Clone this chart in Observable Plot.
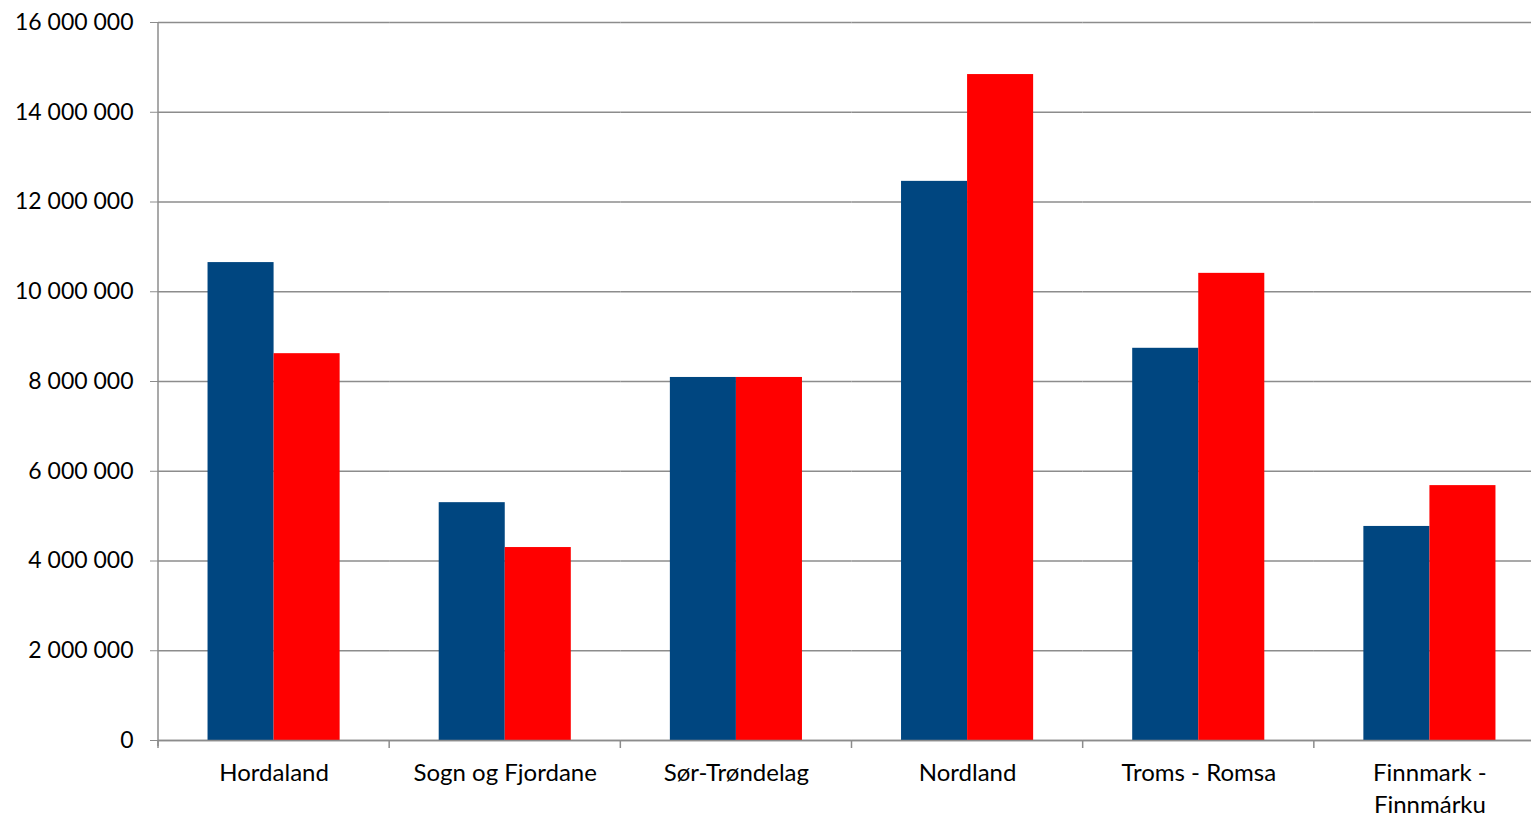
<!DOCTYPE html>
<html>
<head>
<meta charset="utf-8">
<script src="https://cdn.jsdelivr.net/npm/d3@7"></script>
<script src="https://cdn.jsdelivr.net/npm/@observablehq/plot@0.6"></script>
<style>
  html, body { margin: 0; padding: 0; background: #fff; overflow: hidden; }
  #chart svg { display: block; max-width: none !important; }
</style>
</head>
<body>
<div id="chart"></div>
<script>
const categories = ["Hordaland", "Sogn og Fjordane", "Sør-Trøndelag", "Nordland", "Troms - Romsa", "Finnmark - Finnmárku"];
const categoryLabels = ["Hordaland", "Sogn og Fjordane", "Sør-Trøndelag", "Nordland", "Troms - Romsa", "Finnmark -\nFinnmárku"];
const seriesNames = ["A", "B"];
const seriesA = [10650000, 5300000, 8090000, 12460000, 8740000, 4770000];
const seriesB = [8620000, 4300000, 8090000, 14840000, 10410000, 5680000];
const yTicks = [0, 2000000, 4000000, 6000000, 8000000, 10000000, 12000000, 14000000, 16000000];
const colors = ["#004680", "#ff0000"];

const data = [];
categories.forEach((c, i) => {
  data.push({category: c, series: seriesNames[0], value: seriesA[i]});
  data.push({category: c, series: seriesNames[1], value: seriesB[i]});
});

const fmt = v => d3.format(",")(v).replace(/,/g, " ");
const labelOf = Object.fromEntries(categories.map((c, i) => [c, categoryLabels[i]]));

const chart = Plot.plot({
  width: 1545,
  height: 818,
  marginLeft: 158,
  marginRight: 0,
  marginTop: 22,
  marginBottom: 78,
  style: {fontFamily: "Lato, 'Open Sans', sans-serif", fontSize: "23px", color: "#000", overflow: "visible", maxWidth: "none"},
  fx: {domain: categories, padding: 0, round: false, label: null},
  x: {domain: seriesNames, paddingInner: 0, paddingOuter: 0.75, round: false, axis: null},
  y: {domain: [0, 16000000], label: null},
  color: {domain: seriesNames, range: colors},
  marks: [
    Plot.gridY(yTicks, {stroke: "#8c8c8c", strokeOpacity: 1, strokeWidth: 1.5}),
    Plot.barY(data, {fx: "category", x: "series", y: "value", fill: "series", inset: 0}),
    Plot.axisY(yTicks, {tickFormat: fmt, tickSize: 8, tickPadding: 17, stroke: "#8c8c8c", fontSize: 23, label: null}),
    Plot.ruleY([0], {stroke: "#8c8c8c", strokeWidth: 1.5}),
    Plot.axisFx({anchor: "bottom", tickSize: 0, tickPadding: 17, tickFormat: c => labelOf[c], fontSize: 24, lineHeight: 1.35, label: null})
  ]
});

document.getElementById("chart").appendChild(chart);

// y-axis line and category boundary ticks, derived from the scales
const svg = d3.select(chart);
const fx = chart.scale("fx");
const y = chart.scale("y");
const y0 = y.apply(0), yTop = y.apply(16000000);
const xLeft = fx.apply(categories[0]);
svg.append("line")
  .attr("x1", xLeft).attr("x2", xLeft)
  .attr("y1", yTop).attr("y2", y0 + 6)
  .attr("stroke", "#8c8c8c").attr("stroke-width", 1.5);
categories.forEach(c => {
  const xb = fx.apply(c);
  svg.append("line")
    .attr("x1", xb).attr("x2", xb)
    .attr("y1", y0).attr("y2", y0 + 8)
    .attr("stroke", "#8c8c8c").attr("stroke-width", 1.5);
});
</script>
</body>
</html>
